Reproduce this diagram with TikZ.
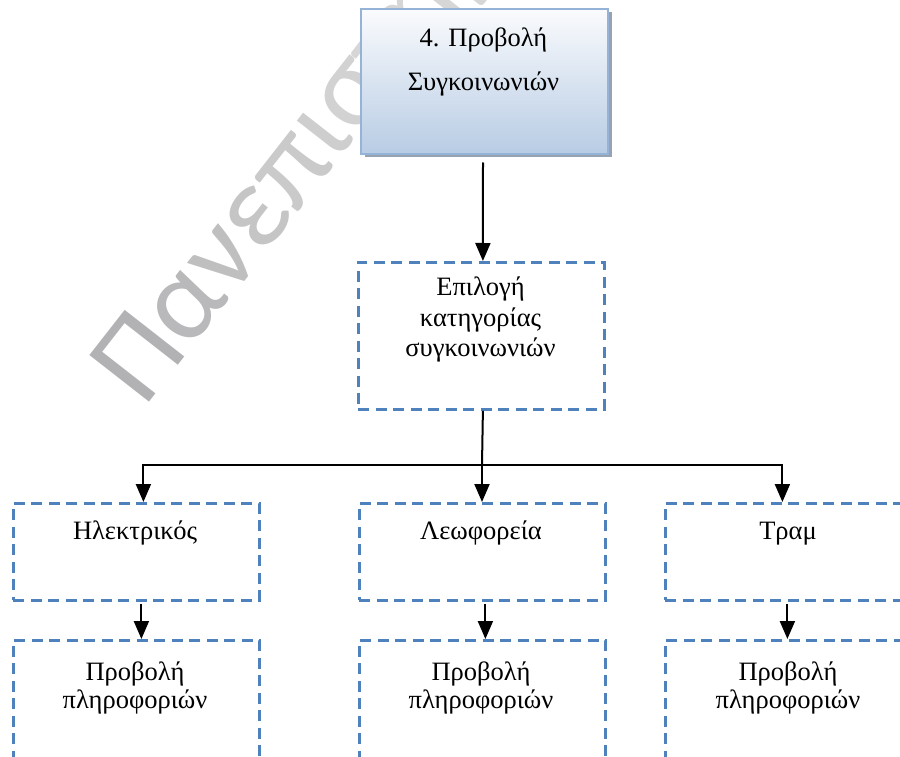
\documentclass[tikz,border=0pt]{standalone}
\usepackage{fontspec}
\setmainfont{Liberation Serif}
\newfontfamily\wmfont{Carlito}
\usetikzlibrary{arrows.meta,shadows}

\definecolor{dashblue}{HTML}{4F81BD}
\definecolor{boxedge}{HTML}{95B3D7}
\definecolor{boxtop}{HTML}{FAFBFD}
\definecolor{boxbot}{HTML}{B8CCE4}
\definecolor{boxshadow}{HTML}{97A3B3}
% watermark letters fade from darker to lighter grey
\definecolor{wmA}{HTML}{B2B2B5}
\definecolor{wmB}{HTML}{B9B9BB}
\definecolor{wmC}{HTML}{BFBFC0}
\definecolor{wmD}{HTML}{C5C5C5}
\definecolor{wmE}{HTML}{CACACA}
\definecolor{wmF}{HTML}{CECECE}
\definecolor{wmG}{HTML}{D2D2D2}
\definecolor{wmH}{HTML}{D6D6D6}

\begin{document}
\begin{tikzpicture}[x=1pt,y=-1pt,
  lbl/.style={font=\fontsize{26.5}{30.5}\selectfont, align=center, inner sep=0pt, anchor=base},
  dbox/.style={draw=dashblue, line width=2.8pt, dash pattern=on 11pt off 6.5pt,
    minimum width=246pt, inner sep=0pt, anchor=north west},
  rowbox/.style={dbox, minimum height=97pt},
  infobox/.style={dbox, minimum height=150pt},
  headbox/.style={draw=boxedge, line width=2pt, top color=boxtop, bottom color=boxbot,
    minimum width=247pt, minimum height=145pt, inner sep=0pt, anchor=north west,
    drop shadow={shadow xshift=3.5pt, shadow yshift=-3.5pt, fill=boxshadow, opacity=1}},
  arr/.style={draw=black, line width=2pt, -{Triangle[length=18pt,width=15pt]}},
  link/.style={draw=black, line width=2pt},
  wm/.style={font=\wmfont\fontsize{118}{118}\selectfont, inner sep=0pt, anchor=base west, rotate=52},
]
\useasboundingbox (0,0) rectangle (900,757);
\clip (0,0) rectangle (900,757);

% background watermark
\node[wm] (wmark) at (144.5,409) {{\color{wmA}Π}{\color{wmB}α}{\color{wmC}ν}{\color{wmD}ε}{\color{wmE}π}{\color{wmF}ι}{\color{wmG}σ}{\color{wmH}τήμιο}};

% header (multi-line labels sit on the baseline of their last line)
\node[headbox] (head) at (360,8) {};
\node[lbl, font=\fontsize{26.5}{44}\selectfont] (headtext) at (483.5,90.5) {4. Προβολή\\Συγκοινωνιών};

% category selection
\node[dbox, minimum height=147pt] (sel) at (357,261) {};
\node[lbl] (seltext) at (480.5,356.5) {Επιλογή\\κατηγορίας\\συγκοινωνιών};

% transport categories
\node[rowbox] (el) at (12,502) {};
\node[rowbox] (bus) at (358,502) {};
\node[rowbox] (tram) at (664,502) {};
\node[lbl] (eltext) at (135,539) {Ηλεκτρικός};
\node[lbl] (bustext) at (481,539) {Λεωφορεία};
\node[lbl] (tramtext) at (788,539) {Τραμ};

% information views
\node[infobox] (i1) at (12,639) {};
\node[infobox] (i2) at (358,639) {};
\node[infobox] (i3) at (664,639) {};
\node[lbl, font=\fontsize{26.5}{28}\selectfont] (i1text) at (135,708) {Προβολή\\πληροφοριών};
\node[lbl, font=\fontsize{26.5}{28}\selectfont] (i2text) at (481,708) {Προβολή\\πληροφοριών};
\node[lbl, font=\fontsize{26.5}{28}\selectfont] (i3text) at (788,708) {Προβολή\\πληροφοριών};

% connectors
\draw[arr] ([xshift=-1.5pt,yshift=-7.5pt]head.south) -- ([xshift=1.5pt]sel.north);
\coordinate (bar) at (482,465);
\draw[link] ([xshift=1.5pt]sel.south) -- (bar);
\draw[arr] (bar) -| ([xshift=7pt]el.north);
\draw[arr] (bar) -| ([xshift=-6pt]tram.north);
\draw[arr] (bar) -- (bar |- bus.north);
\draw[arr] ([xshift=5pt,yshift=-2pt]el.south) -- ([xshift=5pt]i1.north);
\draw[arr] ([xshift=3pt,yshift=-2pt]bus.south) -- ([xshift=3pt]i2.north);
\draw[arr] ([xshift=-1pt,yshift=-2pt]tram.south) -- ([xshift=-1pt]i3.north);
\end{tikzpicture}
\end{document}
